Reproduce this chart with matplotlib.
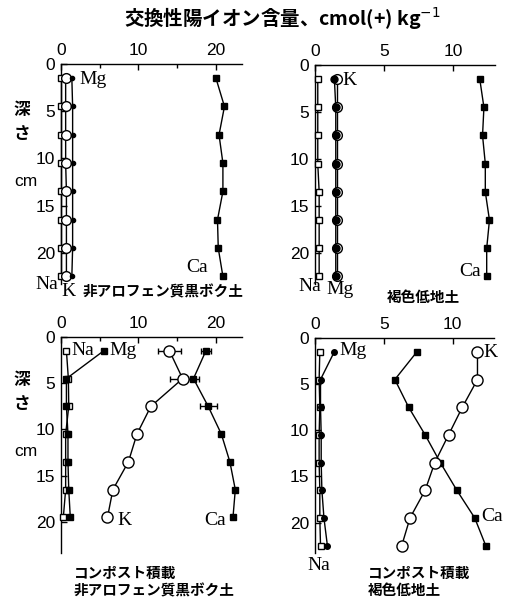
import matplotlib
matplotlib.use("Agg")
from matplotlib import pyplot as plt

plt.rcParams['font.family'] = ['Liberation Sans', 'Noto Sans CJK JP', 'DejaVu Sans']

# depth of each sample [cm]
depth8 = [1.5, 4.5, 7.5, 10.5, 13.5, 16.5, 19.5, 22.5]
depth7 = [1.5, 4.5, 7.5, 10.5, 13.5, 16.5, 19.5]

# 非アロフェン質黒ボク土
a_na = [0.05, 0.05, 0.05, 0.05, 0.05, 0.05, 0.05, 0.05]
a_k = [0.6, 0.6, 0.6, 0.6, 0.7, 0.7, 0.7, 0.7]
a_mg = [1.4, 1.5, 1.5, 1.5, 1.5, 1.5, 1.5, 1.4]
a_ca = [20.0, 21.1, 20.4, 20.9, 20.9, 20.2, 20.3, 20.9]

# 褐色低地土
b_na = [0.2, 0.2, 0.2, 0.2, 0.3, 0.3, 0.3, 0.3]
b_k = [1.6, 1.6, 1.6, 1.6, 1.6, 1.6, 1.6, 1.6]
b_mg = [1.4, 1.5, 1.5, 1.5, 1.5, 1.5, 1.5, 1.5]
b_ca = [11.9, 12.2, 12.1, 12.3, 12.3, 12.6, 12.4, 12.4]

# コンポスト積載 非アロフェン質黒ボク土
c_na = [0.7, 0.95, 1.0, 0.6, 0.6, 0.6, 0.3]
c_mg = [5.5, 0.7, 0.7, 0.9, 0.9, 1.0, 1.2]
c_k = [14.0, 15.7, 11.6, 9.8, 8.7, 6.7, 6.0]
c_ca = [18.7, 17.1, 19.0, 20.7, 21.8, 22.5, 22.2]
c_k_err = [1.5, 1.6]
c_ca_err = [0.6, 0.7, 1.1]

# コンポスト積載 褐色低地土
d_na = [0.35, 0.3, 0.35, 0.3, 0.3, 0.35, 0.35, 0.4]
d_mg = [1.4, 0.4, 0.4, 0.45, 0.45, 0.5, 0.65, 0.9]
d_k = [11.8, 11.8, 10.7, 9.7, 8.7, 8.0, 6.9, 6.3]
d_ca = [7.4, 5.8, 6.8, 8.0, 9.1, 10.3, 11.6, 12.4]

W, H = 514, 600
fig = plt.figure(figsize=(W / 100, H / 100), dpi=100)

cjk = ['Noto Sans CJK JP', 'DejaVu Sans']
serif = 'Liberation Serif'


def panel(l, t, r, b, xmax, xmajor, xminor):
    ax = fig.add_axes([l / W, 1 - b / H, (r - l) / W, (b - t) / H])
    ax.set_xlim(0, xmax)
    ax.set_ylim(23.3, 0)
    ax.xaxis.tick_top()
    ax.set_xticks(xmajor)
    ax.set_xticks(xminor, minor=True)
    ax.set_yticks([0, 5, 10, 15, 20])
    ax.spines['right'].set_visible(False)
    ax.spines['bottom'].set_visible(False)
    for s in ['left', 'top']:
        ax.spines[s].set_linewidth(1.0)
    ax.tick_params(which='both', direction='in', length=4, width=1,
                   labelsize=12.5, pad=4, top=True, bottom=False, right=False)
    ax.tick_params(which='minor', length=3)
    return ax


def series(ax, x, y, marker, ms, face):
    ax.plot(x, y, color='black', lw=1.0, marker=marker, ms=ms,
            mfc=face, mec='black', mew=1.0, clip_on=False, zorder=3)


def fig_text(x, y, s, **kw):
    fig.text(x / W, 1 - y / H, s, **kw)


# top left
ax1 = panel(61, 64, 241.5, 284, 23.3, [0, 10, 20], [5, 15])
series(ax1, a_ca, depth8, 's', 5, 'black')
series(ax1, a_na, depth8, 's', 5, 'white')
series(ax1, a_k, depth8, 'o', 7, 'white')
series(ax1, a_mg, depth8, 'o', 3, 'black')
ax1.text(2.4, 1.6, 'Mg', family=serif, fontsize=14, va='center')
ax1.text(19.0, 21.6, 'Ca', family=serif, fontsize=14, va='center', ha='right')

# top right
ax2 = panel(315, 65, 495, 284, 13.0, [0, 5, 10], [])
series(ax2, b_ca, depth8, 's', 5, 'black')
series(ax2, b_na, depth8, 's', 5, 'white')
series(ax2, b_k, depth8, 'o', 7, 'white')
series(ax2, b_mg, depth8, 'o', 5, 'black')
ax2.text(2.0, 1.6, 'K', family=serif, fontsize=14, va='center')
ax2.text(11.95, 22.0, 'Ca', family=serif, fontsize=14, va='center', ha='right')

# bottom left
ax3 = panel(61, 337, 241.5, 552.5, 23.3, [0, 10, 20], [5, 15])
ax3.errorbar(c_k[:2], depth7[:2], xerr=c_k_err, fmt='none', ecolor='black',
             elinewidth=1, capsize=2.5, zorder=2)
ax3.errorbar(c_ca[:3], depth7[:3], xerr=c_ca_err, fmt='none', ecolor='black',
             elinewidth=1, capsize=2.5, zorder=2)
series(ax3, c_ca, depth7, 's', 5, 'black')
series(ax3, c_na, depth7, 's', 5, 'white')
series(ax3, c_mg, depth7, 's', 4, 'black')
series(ax3, c_k, depth7, 'o', 8, 'white')
ax3.text(1.3, 1.5, 'Na', family=serif, fontsize=14, va='center')
ax3.text(6.3, 1.5, 'Mg', family=serif, fontsize=14, va='center')
ax3.text(7.3, 19.8, 'K', family=serif, fontsize=14, va='center')
ax3.text(21.3, 19.8, 'Ca', family=serif, fontsize=14, va='center', ha='right')

# bottom right
ax4 = panel(315, 338, 494, 553, 13.0, [0, 5, 10], [])
series(ax4, d_ca, depth8, 's', 5, 'black')
series(ax4, d_na, depth8, 's', 5, 'white')
series(ax4, d_mg, depth8, 'o', 4, 'black')
series(ax4, d_k, depth8, 'o', 8, 'white')
ax4.text(1.75, 1.4, 'Mg', family=serif, fontsize=14, va='center')
ax4.text(12.2, 1.6, 'K', family=serif, fontsize=14, va='center')
ax4.text(12.1, 19.3, 'Ca', family=serif, fontsize=14, va='center', clip_on=False)

# labels outside the axes
fig_text(47, 284, 'Na', family=serif, fontsize=14, ha='center', va='center')
fig_text(68, 291, 'K', family=serif, fontsize=14, ha='center', va='center')
fig_text(83, 291, '非アロフェン質黒ボク土', family=cjk, fontsize=10.5,
         weight='bold', va='center')
fig_text(310, 287, 'Na', family=serif, fontsize=14, ha='center', va='center')
fig_text(340, 289, 'Mg', family=serif, fontsize=14, ha='center', va='center')
fig_text(387, 297, '褐色低地土', family=cjk, fontsize=10.5, weight='bold', va='center')
fig_text(74, 573, 'コンポスト積載', family=cjk, fontsize=10.5, weight='bold', va='center')
fig_text(74, 590, '非アロフェン質黒ボク土', family=cjk, fontsize=10.5,
         weight='bold', va='center')
fig_text(319, 565, 'Na', family=serif, fontsize=14, ha='center', va='center')
fig_text(368, 573, 'コンポスト積載', family=cjk, fontsize=10.5, weight='bold', va='center')
fig_text(368, 590, '褐色低地土', family=cjk, fontsize=10.5, weight='bold', va='center')

# depth label
for yy in (0, 270):
    fig_text(22, 110 + yy, '深', family=cjk, fontsize=12, weight='bold',
             ha='center', va='center')
    fig_text(22, 134 + yy, 'さ', family=cjk, fontsize=12, weight='bold',
             ha='center', va='center')
    fig_text(26, 182 + yy, 'cm', fontsize=12.5, ha='center', va='center')

fig_text(282, 18, '交換性陽イオン含量、cmol(+) kg$^{-1}$', family=cjk,
         fontsize=14, weight='bold', ha='center', va='center')

fig.savefig('out.png', dpi=100)
